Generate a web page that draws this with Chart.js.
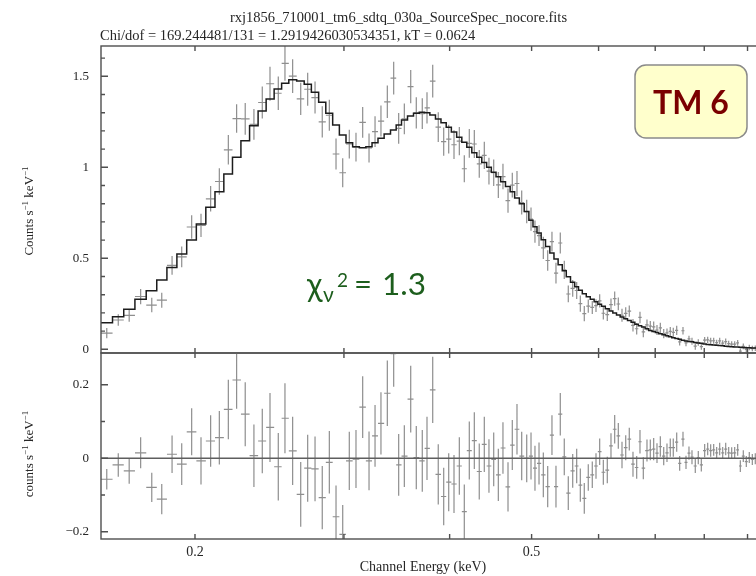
<!DOCTYPE html>
<html><head><meta charset="utf-8">
<script src="https://cdn.jsdelivr.net/npm/chart.js@4/dist/chart.umd.min.js"></script>
<style>
html,body{margin:0;padding:0;background:#fff;overflow:hidden;width:756px;height:576px;}
#wrap{position:relative;width:756px;height:576px;overflow:hidden;background:#fff;}
#c1{position:absolute;left:0;top:0;}
#c2{position:absolute;left:0;top:352px;}
</style></head><body>
<div id="wrap"><canvas id="c1" width="800" height="354"></canvas><canvas id="c2" width="800" height="224"></canvas></div>
<script>
// ---- data ----
const energyKeV = [0.1573,0.1623,0.1672,0.1725,0.1778,0.1827,0.1879,0.1929,0.1982,0.2033,
0.2087,0.2137,0.2190,0.2240,0.2293,0.2348,0.2402,0.2453,0.2509,0.2555,
0.2609,0.2667,0.2718,0.2773,0.2828,0.2883,0.2936,0.2990,0.3044,0.3100,
0.3157,0.3212,0.3265,0.3318,0.3376,0.3435,0.3482,0.3536,0.3598,0.3653,
0.3713,0.3761,0.3820,0.3878,0.3936,0.3990,0.4048,0.4107,0.4163,0.4220,
0.4278,0.4336,0.4396,0.4452,0.4510,0.4567,0.4625,0.4689,0.4744,0.4805,
0.4867,0.4934,0.4992,0.5046,0.5102,0.5162,0.5224,0.5285,0.5343,0.5406,
0.5465,0.5525,0.5592,0.5653,0.5709,0.5771,0.5834,0.5898,0.5958,0.6018,
0.6078,0.6144,0.6206,0.6269,0.6331,0.6395,0.6460,0.6523,0.6589,0.6656,
0.6716,0.6777,0.6845,0.6907,0.6971,0.7034,0.7098,0.7164,0.7228,0.7293,
0.7353,0.7422,0.7482,0.7550,0.7612,0.7674,0.7737,0.7807,0.7871,0.7936,
0.8009,0.8075,0.8141,0.8208,0.8275,0.8343,0.8412,0.8481,0.8550,0.8620,
0.8691,0.8762,0.8825,0.8897,0.8970,0.9043,0.9118,0.9192];

const modelRate = [0.146,0.179,0.220,0.275,0.322,0.381,0.450,0.524,0.600,0.688,
0.780,0.866,0.963,1.055,1.146,1.229,1.309,1.375,1.430,1.462,
1.481,1.474,1.456,1.412,1.357,1.297,1.232,1.177,1.135,1.113,
1.108,1.113,1.135,1.159,1.183,1.205,1.232,1.260,1.282,1.297,
1.302,1.300,1.287,1.265,1.245,1.220,1.194,1.165,1.137,1.110,
1.080,1.055,1.027,1.000,0.973,0.948,0.921,0.895,0.866,0.832,
0.800,0.757,0.709,0.674,0.639,0.602,0.565,0.529,0.496,0.464,
0.432,0.399,0.369,0.344,0.324,0.305,0.289,0.275,0.261,0.248,
0.236,0.223,0.211,0.200,0.188,0.178,0.168,0.158,0.148,0.138,
0.130,0.123,0.113,0.104,0.098,0.092,0.086,0.080,0.075,0.069,
0.064,0.060,0.055,0.050,0.046,0.043,0.041,0.038,0.035,0.033,
0.029,0.027,0.025,0.024,0.022,0.021,0.019,0.017,0.016,0.014,
0.013,0.012,0.011,0.010,0.009,0.008,0.007,0.007];

const dataRate = [0.089,0.161,0.186,0.290,0.243,0.270,0.461,0.508,0.672,0.681,
0.827,0.922,1.096,1.268,1.266,1.236,1.356,1.459,1.407,1.571,
1.501,1.376,1.429,1.383,1.250,1.286,1.073,0.970,1.128,1.111,
1.247,1.106,1.196,1.254,1.360,1.490,1.214,1.266,1.443,1.299,
1.295,1.327,1.473,1.221,1.141,1.155,1.124,1.144,0.992,1.131,
1.128,1.019,1.065,0.979,0.970,0.903,0.949,0.817,0.902,0.911,
0.806,0.757,0.715,0.647,0.625,0.557,0.488,0.592,0.419,0.584,
0.436,0.304,0.335,0.323,0.251,0.196,0.237,0.230,0.240,0.266,
0.198,0.191,0.245,0.279,0.249,0.187,0.197,0.210,0.132,0.113,
0.175,0.096,0.134,0.127,0.123,0.106,0.118,0.086,0.090,0.098,
0.093,0.104,0.041,0.102,0.035,0.057,0.044,0.017,0.037,0.015,
0.050,0.052,0.046,0.047,0.037,0.046,0.034,0.042,0.031,0.028,
0.028,0.035,-0.010,0.016,0.000,0.010,0.004,0.006];

const rateErr = [0.028,0.032,0.035,0.042,0.040,0.041,0.051,0.057,0.064,0.064,
0.070,0.073,0.081,0.078,0.087,0.085,0.088,0.094,0.092,0.095,
0.093,0.088,0.091,0.088,0.086,0.085,0.085,0.080,0.079,0.079,
0.084,0.080,0.084,0.085,0.089,0.090,0.084,0.084,0.091,0.086,
0.084,0.086,0.090,0.082,0.078,0.079,0.079,0.078,0.074,0.079,
0.077,0.076,0.075,0.073,0.073,0.071,0.070,0.067,0.068,0.069,
0.066,0.065,0.064,0.061,0.057,0.061,0.056,0.054,0.057,0.058,
0.050,0.046,0.046,0.047,0.045,0.042,0.036,0.036,0.035,0.036,
0.034,0.036,0.034,0.039,0.035,0.036,0.034,0.031,0.034,0.031,
0.032,0.030,0.030,0.028,0.030,0.027,0.028,0.025,0.025,0.025,
0.025,0.026,0.020,0.020,0.018,0.018,0.019,0.019,0.018,0.018,
0.018,0.017,0.017,0.016,0.016,0.017,0.016,0.017,0.016,0.016,
0.016,0.016,0.016,0.016,0.015,0.015,0.015,0.015];

const residRate = [-0.057,-0.018,-0.034,0.015,-0.079,-0.111,0.011,-0.016,0.072,-0.007,
0.047,0.056,0.133,0.213,0.120,0.007,0.047,0.084,-0.023,0.109,
0.020,-0.098,-0.027,-0.029,-0.107,-0.011,-0.159,-0.207,-0.007,-0.002,
0.139,-0.007,0.061,0.095,0.177,0.285,-0.018,0.006,0.161,0.002,
-0.007,0.027,0.186,-0.044,-0.104,-0.065,-0.070,-0.021,-0.145,0.021,
0.048,-0.036,0.038,-0.021,-0.003,-0.045,0.028,-0.078,0.036,0.079,
0.006,0.000,0.006,-0.027,-0.014,-0.045,-0.077,0.063,-0.077,0.120,
0.004,-0.095,-0.034,-0.021,-0.073,-0.109,-0.052,-0.045,-0.021,0.018,
-0.038,-0.032,0.034,0.079,0.061,0.009,0.029,0.052,-0.016,-0.025,
0.045,-0.027,0.021,0.023,0.025,0.014,0.032,0.006,0.015,0.029,
0.029,0.044,-0.014,0.052,-0.011,0.014,0.003,-0.021,0.002,-0.018,
0.021,0.025,0.021,0.023,0.015,0.025,0.015,0.025,0.015,0.014,
0.015,0.023,-0.021,0.006,-0.009,0.002,-0.003,-0.001];

const xTickValues = [0.2,0.3,0.4,0.5,0.6,0.7,0.8,0.9,1.0];
const xTickLabels = ['0.2','','','0.5','','','','',''];
const topTickValues = [0,0.5,1,1.5];
const topTickLabels = ['0','0.5','1','1.5'];
const topMinorTicks = [0,0.1,0.2,0.3,0.4,0.5,0.6,0.7,0.8,0.9,1,1.1,1.2,1.3,1.4,1.5,1.6];
const resTickValues = [-0.2,0,0.2];
const resTickLabels = ['\u22120.2','0','0.2'];
const resMinorTicks = [-0.2,-0.1,0,0.1,0.2];

const titleText = 'rxj1856_710001_tm6_sdtq_030a_SourceSpec_nocore.fits';
const fitText = 'Chi/dof = 169.244481/131 = 1.2919426030534351, kT = 0.0624';
const xTitle = 'Channel Energy (keV)';
const yTitleTop = [['Counts s',0],['\u22121',1],[' keV',0],['\u22121',1]];
const yTitleRes = [['counts s',0],['\u22121',1],[' keV',0],['\u22121',1]];
const badgeText = 'TM 6';

// ---- helpers (build library datasets from the arrays) ----
const X_MIN = 0.15485, X_MAX = 1.0103;
const n = energyKeV.length;
function edgeLo(i){ return i===0 ? energyKeV[0]-(energyKeV[1]-energyKeV[0])/2 : (energyKeV[i-1]+energyKeV[i])/2; }
function edgeHi(i){ return i===n-1 ? energyKeV[n-1]+(energyKeV[n-1]-energyKeV[n-2])/2 : (energyKeV[i]+energyKeV[i+1])/2; }
function hBars(vals){ const out=[]; vals.forEach((v,i)=>{ out.push({x:edgeLo(i),y:v},{x:edgeHi(i),y:v},{x:edgeHi(i),y:null}); }); return out; }
function vBars(vals,errs){ const out=[]; vals.forEach((v,i)=>{ const e=energyKeV[i]; out.push({x:e,y:v-errs[i]},{x:e,y:v+errs[i]},{x:e,y:null}); }); return out; }
function stepPts(vals){ const pts=[{x:edgeLo(0),y:vals[0]}]; vals.forEach((v,i)=>pts.push({x:energyKeV[i],y:v})); pts.push({x:edgeHi(n-1),y:vals[n-1]}); return pts; }

const SERIF = '"Liberation Serif", "Times New Roman", serif';
const FRAME = '#4f4f4f';
const BAR = '#8e8e8e';

function drawRotLabel(ctx, parts, cx, cy){
  ctx.save(); ctx.translate(cx, cy); ctx.rotate(-Math.PI/2);
  ctx.textAlign='left'; ctx.textBaseline='alphabetic'; ctx.fillStyle='#262626';
  const fontN = '13px '+SERIF, fontS = '9px '+SERIF;
  let w=0; parts.forEach(p=>{ ctx.font = p[1]?fontS:fontN; w += ctx.measureText(p[0]).width; });
  let x=-w/2;
  parts.forEach(p=>{ ctx.font = p[1]?fontS:fontN; ctx.fillText(p[0], x, p[1]?-5:0); x += ctx.measureText(p[0]).width; });
  ctx.restore();
}

function framePlugin(minor, major){
  return { id:'frame', afterDatasetsDraw(chart){
    const {ctx, chartArea:a, scales} = chart;
    ctx.save(); ctx.strokeStyle=FRAME; ctx.lineWidth=1.4;
    ctx.strokeRect(a.left, a.top, a.right-a.left, a.bottom-a.top);
    ctx.beginPath();
    xTickValues.forEach(v=>{ const px=scales.x.getPixelForValue(v);
      ctx.moveTo(px,a.top); ctx.lineTo(px,a.top+5); ctx.moveTo(px,a.bottom); ctx.lineTo(px,a.bottom-5); });
    minor.forEach(v=>{ const py=scales.y.getPixelForValue(v); const len = major.includes(v)?7:4;
      ctx.moveTo(a.left,py); ctx.lineTo(a.left+len,py); });
    ctx.stroke(); ctx.restore();
  }};
}

const topTexts = { id:'topTexts', afterDraw(chart){
  const ctx = chart.ctx; ctx.save();
  ctx.fillStyle='#262626'; ctx.textBaseline='alphabetic';
  ctx.font='14.5px '+SERIF; ctx.textAlign='center';
  ctx.fillText(titleText, 398.5, 22, 339);
  ctx.textAlign='left';
  ctx.fillText(fitText, 100, 40, 380);
  drawRotLabel(ctx, yTitleTop, 33, 211);
  // chi-square annotation
  ctx.fillStyle='#1d5e1d';
  ctx.font='32px Lato'; ctx.fillText('\u03C7', 307, 296);
  ctx.font='21px Lato'; ctx.fillText('\u03BD', 323, 302);
  ctx.font='19px Lato'; ctx.fillText('2', 337, 287);
  ctx.font='31px Lato'; ctx.fillText('=', 354, 295);
  ctx.font='31.5px Lato'; ctx.fillText('1.3', 382, 295);
  // TM 6 badge
  ctx.beginPath(); ctx.roundRect(635, 65, 112, 73, 11);
  ctx.fillStyle='#ffffcc'; ctx.fill(); ctx.strokeStyle='#8a8a8a'; ctx.lineWidth=1.5; ctx.stroke();
  ctx.fillStyle='#7a0000'; ctx.font='bold 32px Lato'; ctx.textAlign='center';
  ctx.fillText(badgeText, 691, 114);
  ctx.restore();
}};

const resTexts = { id:'resTexts', afterDraw(chart){
  const ctx = chart.ctx; ctx.save();
  drawRotLabel(ctx, yTitleRes, 33, 102);
  ctx.fillStyle='#262626'; ctx.font='14px '+SERIF; ctx.textAlign='center'; ctx.textBaseline='alphabetic';
  ctx.fillText(xTitle, 423, 219);
  ctx.restore();
}};

function yAxis(min,max,vals,labels){
  return { type:'linear', min, max,
    grid:{display:false, drawTicks:false}, border:{display:false},
    afterBuildTicks(s){ s.ticks = vals.map(v=>({value:v})); },
    afterFit(s){ s.width=101; s.paddingTop=0; s.paddingBottom=0; },
    ticks:{ padding:12, color:'#262626', font:{family:SERIF, size:13},
      callback:(v)=>{ const k=vals.indexOf(v); return k>=0?labels[k]:''; } } };
}

Chart.defaults.animation = false;

new Chart(document.getElementById('c1'), {
  type:'line',
  data:{ datasets:[
    {data: stepPts(modelRate), stepped:'middle', borderColor:'#1c1c1c', borderWidth:1.5, pointRadius:0},
    {data: hBars(dataRate), borderColor:BAR, borderWidth:1.2, pointRadius:0, spanGaps:false},
    {data: vBars(dataRate, rateErr), borderColor:BAR, borderWidth:1.2, pointRadius:0, spanGaps:false}
  ]},
  options:{ responsive:false, animation:false, events:[],
    layout:{padding:{left:0, top:46, right:10, bottom:1}},
    scales:{
      x:{type:'logarithmic', min:X_MIN, max:X_MAX, display:false},
      y: yAxis(-0.0203, 1.6665, topTickValues, topTickLabels)
    },
    plugins:{legend:{display:false}, tooltip:{enabled:false}}
  },
  plugins:[framePlugin(topMinorTicks, topTickValues), topTexts]
});

new Chart(document.getElementById('c2'), {
  type:'line',
  data:{ datasets:[
    {data:[{x:X_MIN,y:0},{x:X_MAX,y:0}], borderColor:'#5e5e5e', borderWidth:1.6, pointRadius:0},
    {data: hBars(residRate), borderColor:BAR, borderWidth:1.2, pointRadius:0, spanGaps:false},
    {data: vBars(residRate, rateErr), borderColor:BAR, borderWidth:1.2, pointRadius:0, spanGaps:false}
  ]},
  options:{ responsive:false, animation:false, events:[],
    layout:{padding:{left:0, top:1, right:10, bottom:0}},
    scales:{
      x:{type:'logarithmic', min:X_MIN, max:X_MAX,
        grid:{display:false, drawTicks:false}, border:{display:false},
        afterBuildTicks(s){ s.ticks = xTickValues.map(v=>({value:v})); },
        afterFit(s){ s.height=37; s.paddingLeft=0; s.paddingRight=0; },
        ticks:{ autoSkip:false, maxRotation:0, padding:5, color:'#262626', font:{family:SERIF, size:14},
          callback:(v)=>{ const k=xTickValues.indexOf(v); return k>=0?xTickLabels[k]:''; } } },
      y: yAxis(-0.2196, 0.2865, resTickValues, resTickLabels)
    },
    plugins:{legend:{display:false}, tooltip:{enabled:false}}
  },
  plugins:[framePlugin(resMinorTicks, resTickValues), resTexts]
});
</script>
</body></html>
